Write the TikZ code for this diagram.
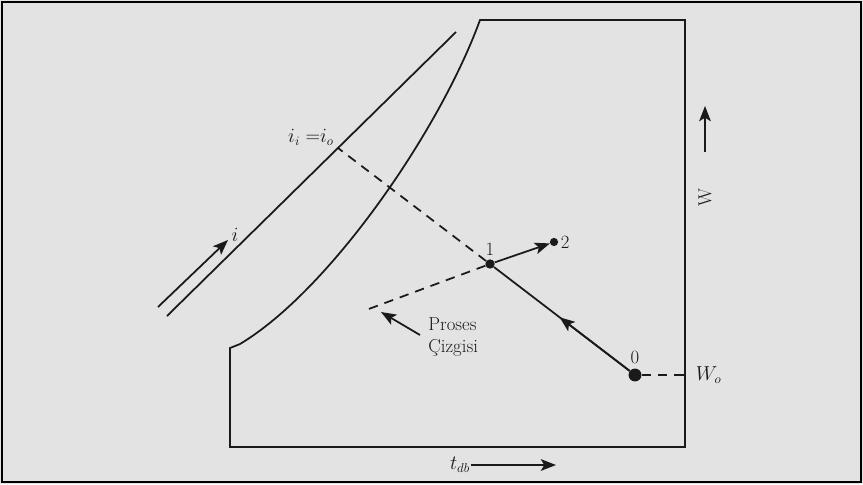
\documentclass[tikz,border=0pt]{standalone}
\usepackage{fontspec}
\usetikzlibrary{positioning,arrows.meta,calc}
\definecolor{paper}{HTML}{E3E3E3}
\definecolor{ink}{HTML}{1A1A1A}
\tikzset{
  ln/.style={line width=1.5pt, color=ink},
  dsh/.style={ln, dash pattern=on 8pt off 6pt},
  arr/.style={ln, -{Stealth[length=13pt,width=10pt,inset=3pt]}},
  dot/.style={circle, fill=ink, inner sep=0pt, minimum size=#1},
  dot/.default=6pt,
  lab/.style={font=\fontsize{16pt}{19pt}\selectfont, text=ink, inner sep=1pt},
}

\begin{document}
\begin{tikzpicture}[x=0.3mm, y=-0.3mm]
  \useasboundingbox (0,0) rectangle (863,484);
  \fill[paper] (0,0) rectangle (863,484);
  \draw[line width=2.5pt] (2,2) rectangle (861,482);
  % chart outline with saturation curve
  \draw[ln] (480,20) .. controls (440,130) and (330,290) .. (240,344)
    -- (230,348) -- (230,447) -- (685,447) -- (685,20) -- cycle;
  % enthalpy line
  \draw[ln] (167,316) -- (456,32);
  \draw[arr] (158,307) -- (228,240);
  \node[lab] (ilab) at (235,235) {$i$};
  % states
  \node[dot=11pt] (p0) at (635,375) {};
  \node[dot=8pt] (p1) at (490,264) {};
  \node[dot=7pt] (p2) at (554,242) {};
  \coordinate (io) at (338,148);
  \coordinate (pe) at (366,310);
  \coordinate (wo) at (685,375);
  \draw[ln] (p0) -- (p1);
  \draw[arr] (p0) -- ($(p0)!0.52!(p1)$);
  \draw[arr] (p1) -- (p2);
  \draw[dsh] (p1) -- (io);
  \draw[dsh] (p1) -- (pe);
  \draw[dsh] (p0) -- (wo);
  \node[lab, above=3pt of p0] (l0) {0};
  \node[lab, above=2pt of p1] (l1) {1};
  \node[lab, right=1pt of p2] (l2) {2};
  \node[lab, right=8pt of wo] (wolab) {$W_o$};
  \node[lab] (iolab) at (311,137) {$i_i\;{=}i_o$};
  % process line note
  \node[lab, align=left, anchor=north west] (proc) at (427,316) {Proses\\Çizgisi};
  \coordinate (pstart) at (420,335);
  \coordinate (ptip) at (381,312);
  \draw[arr] (pstart) -- (ptip);
  % axes
  \coordinate (wa) at (705,152);
  \coordinate (wb) at (705,106);
  \draw[arr] (wa) -- (wb);
  \node[lab, rotate=90] (wlab) at (705,198) {W};
  \node[lab] (tdb) at (460,465) {$t_{db}$};
  \coordinate (tend) at (556,465);
  \draw[arr] (tdb.east) -- (tend);
\end{tikzpicture}
\end{document}
